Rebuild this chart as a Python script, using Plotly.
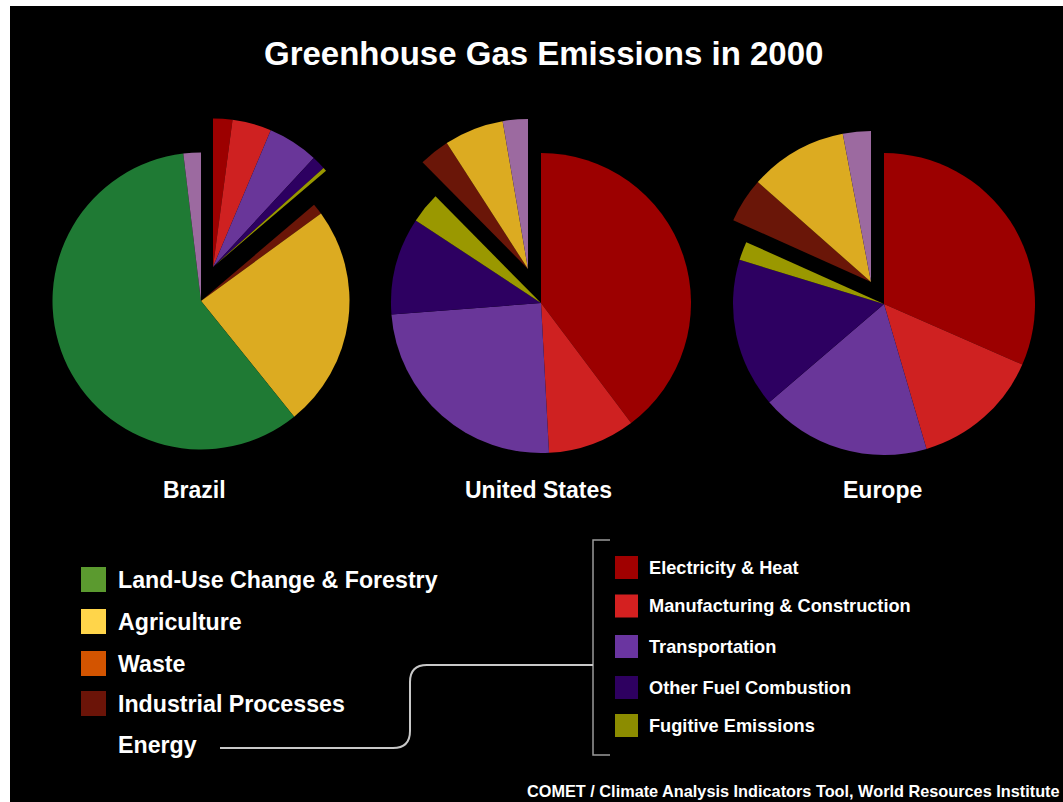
import plotly.graph_objects as go

W, H = 1063, 802

# ---------------- data ----------------
categories = [
    "Electricity & Heat",
    "Manufacturing & Construction",
    "Transportation",
    "Other Fuel Combustion",
    "Fugitive Emissions",
    "Industrial Processes",
    "Agriculture",
    "Land-Use Change & Forestry",
    "Waste",
]
brazil_values = [2.1, 4.25, 5.5, 1.5, 0.4, 1.2, 24.2, 58.8, 1.9]
us_values = [39.7, 9.4, 24.6, 10.5, 3.3, 3.3, 6.4, 0.0, 2.7]
europe_values = [31.6, 13.9, 18.3, 16.0, 2.0, 4.8, 10.5, 0.0, 3.0]
region_names = ["Brazil", "United States", "Europe"]

sector_legend = ["Land-Use Change & Forestry", "Agriculture", "Waste", "Industrial Processes"]
energy_legend = ["Electricity & Heat", "Manufacturing & Construction", "Transportation",
                 "Other Fuel Combustion", "Fugitive Emissions"]

title_text = "Greenhouse Gas Emissions in 2000"
source_text = "COMET / Climate Analysis Indicators Tool, World Resources Institute"

# ---------------- styles ----------------
pie_colors = {
    "Electricity & Heat": "#9c0000",
    "Manufacturing & Construction": "#cf2121",
    "Transportation": "#693699",
    "Other Fuel Combustion": "#2d0061",
    "Fugitive Emissions": "#9a9800",
    "Industrial Processes": "#6a1608",
    "Agriculture": "#dcab21",
    "Land-Use Change & Forestry": "#1f7a34",
    "Waste": "#9c6aa0",
}
legend_colors = {
    "Land-Use Change & Forestry": "#5b9a2f",
    "Agriculture": "#ffd54a",
    "Waste": "#d35400",
    "Industrial Processes": "#6b1408",
    "Electricity & Heat": "#a00000",
    "Manufacturing & Construction": "#d42020",
    "Transportation": "#6a35a0",
    "Other Fuel Combustion": "#2e0060",
    "Fugitive Emissions": "#8c8c00",
}
energy_set = set(energy_legend)
pulled_energy = {"Brazil": True, "United States": False, "Europe": False}

# layout geometry (pixels)
pie_geom = {
    "Brazil": dict(cx=201, cy=301, r=148.5, dx=12, dy=-34),
    "United States": dict(cx=541, cy=303, r=150, dx=-13, dy=-34),
    "Europe": dict(cx=884, cy=304, r=151, dx=-13, dy=-22),
}
FONT = "Liberation Sans, Arial, Helvetica, sans-serif"
TRANSPARENT = "rgba(0,0,0,0)"


def px(x):
    return x / W


def py(y):
    return 1 - y / H


def domain(cx, cy, r):
    return dict(x=[px(cx - r), px(cx + r)], y=[py(cy + r), py(cy - r)])


fig = go.Figure()

values_by_region = {"Brazil": brazil_values, "United States": us_values, "Europe": europe_values}

for name in region_names:
    vals = values_by_region[name]
    g = pie_geom[name]
    is_pulled = [((c in energy_set) == pulled_energy[name]) for c in categories]
    base_colors = [TRANSPARENT if p else pie_colors[c] for c, p in zip(categories, is_pulled)]
    pull_colors = [pie_colors[c] if p else TRANSPARENT for c, p in zip(categories, is_pulled)]
    common = dict(labels=categories, values=vals, sort=False, direction="clockwise",
                  rotation=0, textinfo="none", showlegend=False, hoverinfo="label+percent")
    fig.add_trace(go.Pie(**common, marker=dict(colors=base_colors, line=dict(width=0)),
                         domain=domain(g["cx"], g["cy"], g["r"]), name=name))
    fig.add_trace(go.Pie(**common, marker=dict(colors=pull_colors, line=dict(width=0)),
                         domain=domain(g["cx"] + g["dx"], g["cy"] + g["dy"], g["r"]), name=name))

annotations = []
shapes = []


def text(x, y, s, size, anchor="left", color="white"):
    annotations.append(dict(x=px(x), y=py(y), xref="paper", yref="paper", text=s,
                            showarrow=False, xanchor=anchor, yanchor="middle",
                            font=dict(family=FONT, size=size, color=color, weight="bold")))


def rect(x0, y0, x1, y1, color):
    shapes.append(dict(type="rect", xref="paper", yref="paper",
                       x0=px(x0), x1=px(x1), y0=py(y1), y1=py(y0),
                       fillcolor=color, line=dict(width=0), layer="above"))


# white outer strips (top and left)
rect(0, 0, W, 6, "white")
rect(0, 0, 10, H, "white")

# title
text(543, 53, title_text, 33, anchor="center")

# region labels
label_x = {"Brazil": 194, "United States": 538, "Europe": 882}
for name in region_names:
    text(label_x[name], 490, name, 23, anchor="center")

# left legend
left_rows = [579.5, 621.5, 663.5, 703.5]
for cat, yc in zip(sector_legend, left_rows):
    rect(81, yc - 12.5, 106, yc + 12.5, legend_colors[cat])
    text(116, yc, cat, 23.2)
text(116, 745, "Energy", 23.2)

# right legend
right_rows = [567.5, 606, 646.5, 687.5, 725.5]
for cat, yc in zip(energy_legend, right_rows):
    rect(615, yc - 11.5, 638, yc + 11.5, legend_colors[cat])
    text(647, yc, cat, 18.2)


def P(x, y):
    return f"{px(x):.5f},{py(y):.5f}"


# bracket
bracket = f"M {P(610, 540)} L {P(593, 540)} L {P(593, 755)} L {P(610, 755)}"
shapes.append(dict(type="path", xref="paper", yref="paper", path=bracket,
                   line=dict(color="#9a9a9a", width=1.5), layer="above"))

connector = (f"M {P(220, 748)} L {P(393, 748)} Q {P(410, 748)} {P(410, 731)} "
             f"L {P(410, 682)} Q {P(410, 665)} {P(427, 665)} L {P(593, 665)}")
shapes.append(dict(type="path", xref="paper", yref="paper", path=connector,
                   line=dict(color="#c8c8c8", width=2), layer="above"))

# source
text(525, 791, source_text, 16.3)

fig.update_layout(
    width=W, height=H,
    margin=dict(l=0, r=0, t=0, b=0),
    paper_bgcolor="black",
    plot_bgcolor="black",
    annotations=annotations,
    shapes=shapes,
    showlegend=False,
)

fig.write_html("out.html")
